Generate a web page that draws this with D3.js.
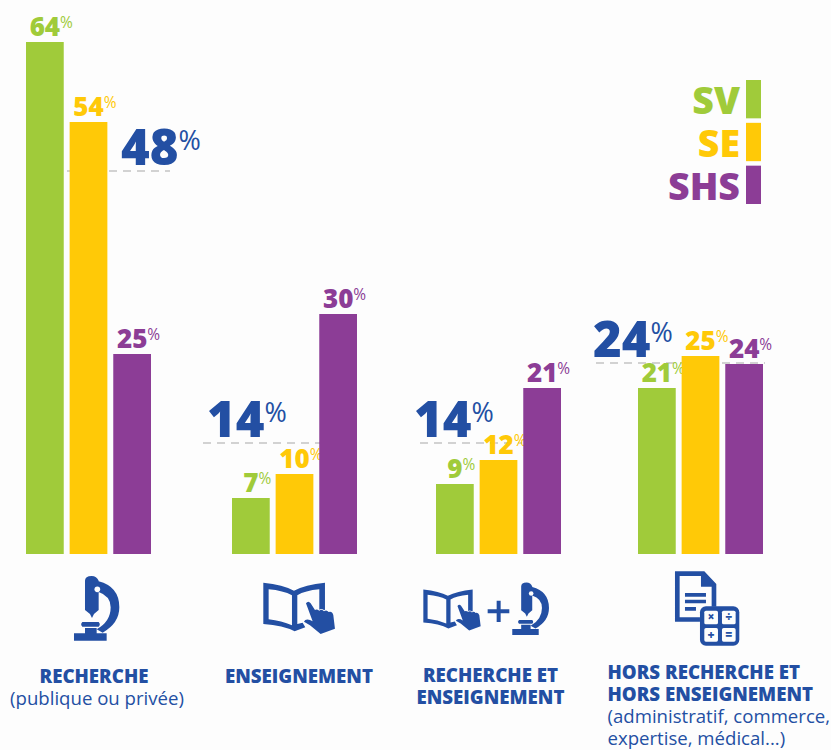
<!DOCTYPE html>
<html>
<head>
<meta charset="utf-8">
<script src="https://cdn.jsdelivr.net/npm/d3@7"></script>
<style>
html, body { margin: 0; padding: 0; background: #fdfdfd; }
svg { display: block; }
text { font-family: "Open Sans", sans-serif; }
</style>
</head>
<body>
<svg id="chart" width="831" height="750"></svg>
<script>
const categories = ['recherche', 'enseignement', 'mixte', 'hors'];
const seriesNames = ['SV', 'SE', 'SHS'];
// bar heights, printed rounded
const valuesSV = [64, 7, 8.75, 20.75];
const valuesSE = [54, 10, 11.75, 24.75];
const valuesSHS = [25, 30, 20.75, 23.75];
const averages = [48, 14, 14, 24];
const labelTitles = [
	['RECHERCHE'],
	['ENSEIGNEMENT'],
	['RECHERCHE ET', 'ENSEIGNEMENT'],
	['HORS RECHERCHE ET', 'HORS ENSEIGNEMENT']
];
const labelNotes = [
	['(publique ou privée)'],
	[],
	[],
	['(administratif, commerce,', 'expertise, médical...)']
];

const colors = d3.scaleOrdinal(seriesNames, ['#a0cb3a', '#ffc907', '#8c3d96']);
const blue = '#234fa3';
const series = {SV: valuesSV, SE: valuesSE, SHS: valuesSHS};

const svg = d3.select('#chart');
const y = d3.scaleLinear().domain([0, 64]).range([554, 42]);
const groupX = d3.scaleOrdinal(categories, [26, 232, 436, 638]);
const barX = d3.scaleBand().domain(seriesNames).range([0, 125]).paddingInner(0.135);

// dashed average lines, behind the bars
const avgLayout = [
	{x1: 67, x2: 170, textX: 121},
	{x1: 203, x2: 320, textX: 207},
	{x1: 420, x2: 522, textX: 414},
	{x1: 596, x2: 765, textX: 593}
];
svg.append('g').selectAll('line').data(averages).join('line')
	.attr('x1', (d, i) => avgLayout[i].x1)
	.attr('x2', (d, i) => avgLayout[i].x2)
	.attr('y1', d => y(d) + 1)
	.attr('y2', d => y(d) + 1)
	.attr('stroke', '#c4c4c4')
	.attr('stroke-width', 1.4)
	.attr('stroke-dasharray', '8 6');

// bars and their value labels
seriesNames.forEach(name => {
	const g = svg.append('g');
	const rows = categories.map((c, i) => ({c, v: series[name][i]}));
	g.selectAll('rect').data(rows).join('rect')
		.attr('x', d => groupX(d.c) + barX(name))
		.attr('y', d => y(d.v))
		.attr('width', barX.bandwidth())
		.attr('height', d => y(0) - y(d.v))
		.attr('fill', colors(name));
	g.selectAll('text.num').data(rows).join('text')
		.attr('class', 'num')
		.attr('x', d => groupX(d.c) + barX(name) + barX.bandwidth() / 2)
		.attr('y', d => y(d.v) - 6)
		.attr('text-anchor', 'middle')
		.attr('font-size', 26)
		.attr('font-weight', 800)
		.attr('fill', colors(name))
		.text(d => Math.round(d.v))
		.each(function(d) {
			d.numW = this.getComputedTextLength();
		});
	g.selectAll('text.pct').data(rows).join('text')
		.attr('class', 'pct')
		.attr('x', d => groupX(d.c) + barX(name) + barX.bandwidth() / 2 + d.numW / 2)
		.attr('y', d => y(d.v) - 14)
		.attr('font-size', 15.5)
		.attr('font-weight', 400)
		.attr('fill', colors(name))
		.text('%');
});

// big average figures
svg.append('g').selectAll('text').data(averages).join('text')
	.attr('x', (d, i) => avgLayout[i].textX)
	.attr('y', d => y(d) - 5)
	.attr('font-size', 49)
	.attr('font-weight', 800)
	.attr('fill', blue)
	.each(function(d) {
		const t = d3.select(this);
		t.append('tspan').text(d);
		t.append('tspan').text('%')
			.attr('font-size', 27)
			.attr('font-weight', 400)
			.attr('dy', -15);
	});

// legend
const legendY = d3.scaleBand().domain(seriesNames).range([80, 204]).paddingInner(0.105);
const legend = svg.append('g').selectAll('g').data(seriesNames).join('g');
legend.append('rect')
	.attr('x', 746)
	.attr('y', d => legendY(d))
	.attr('width', 15)
	.attr('height', legendY.bandwidth())
	.attr('fill', d => colors(d));
legend.append('text')
	.attr('x', 740)
	.attr('y', d => legendY(d) + 34)
	.attr('text-anchor', 'end')
	.attr('font-size', 37.5)
	.attr('font-weight', 800)
	.attr('fill', d => colors(d))
	.text(d => d);

// icons, drawn in the 3x zoom coordinates
const defs = svg.append('defs');
const scope = defs.append('g').attr('id', 'scope');
scope.append('path').attr('fill', blue).attr('d',
	'M222 220H255V204H290V220H320V242H222Z' +
	'M247 186H296Q303 193 296 200H247Q240 193 247 186Z' +
	'M255 62Q255 48 275 48Q290 48 296 62L296 150L282 162L276 174L270 162L255 150Z' +
	'M296 64Q358 80 358 142Q358 190 308 218L290 208Q332 185 332 142Q332 108 296 96Z');
scope.append('circle').attr('cx', 292).attr('cy', 88).attr('r', 8.5).attr('fill', '#fdfdfd');

const book = defs.append('g').attr('id', 'book');
book.append('path').attr('fill', blue).attr('fill-rule', 'evenodd').attr('d',
	'M790 68Q850 74 882 92Q915 74 975 68V165H958V88Q915 92 892 106V192L908 188L916 202L884 214Q850 196 790 192Z' +
	'M806 88V178Q845 182 876 196V106Q850 92 806 88Z');
book.append('path').attr('fill', blue)
	.attr('stroke', '#fdfdfd').attr('stroke-width', 5).attr('paint-order', 'stroke')
	.attr('d', 'M918 130Q925 120 932 130L945 150Q950 146 958 152Q966 146 972 154Q980 148 986 156Q996 152 1000 165L1005 206L962 222L930 196L912 185Q916 176 930 180L938 184Z');

svg.append('use').attr('href', '#scope')
	.attr('transform', 'translate(0,560) scale(0.3333)');
svg.append('use').attr('href', '#book')
	.attr('transform', 'translate(0,560) scale(0.3333)');
svg.append('use').attr('href', '#book')
	.attr('transform', 'translate(415,560) scale(0.3333) translate(-607,34) scale(0.8)');
svg.append('use').attr('href', '#scope')
	.attr('transform', 'translate(415,560) scale(0.3333) translate(112,29) scale(0.81)');
svg.append('path').attr('fill', blue)
	.attr('transform', 'translate(415,560) scale(0.3333)')
	.attr('d', 'M245 122H257V148H283V160H257V186H245V160H218V148H245Z');

// document and calculator
const doc = svg.append('g').attr('transform', 'translate(415,560) scale(0.3333)');
doc.append('path').attr('fill', blue).attr('d',
	'M780 34H868L904 72V140H890V80H858V48H794V172H855V185H780Z');
doc.append('path').attr('fill', blue).attr('d',
	'M810 99H873V110H810ZM810 119H873V130H810ZM810 141H843V152H810Z');
doc.append('rect').attr('x', 855).attr('y', 139).attr('width', 118).attr('height', 118)
	.attr('rx', 18).attr('fill', blue);
[[868, 152], [921, 152], [868, 204], [921, 204]].forEach(p => {
	doc.append('rect').attr('x', p[0]).attr('y', p[1]).attr('width', 41).attr('height', 41)
		.attr('rx', 5).attr('fill', '#fdfdfd');
});
doc.selectAll('text.op').data(['×', '÷', '+', '=']).join('text')
	.attr('class', 'op')
	.attr('x', (d, i) => (i % 2 ? 941.5 : 888.5))
	.attr('y', (d, i) => (i < 2 ? 184 : 236))
	.attr('text-anchor', 'middle')
	.attr('font-size', 36)
	.attr('font-weight', 800)
	.attr('fill', blue)
	.text(d => d);

// category labels
const labelCx = [94, 299, 490.5, null];
const labelTop = [682.5, 682.5, 681.5, 679];
labelTitles.forEach((lines, i) => {
	const anchor = labelCx[i] === null ? 'start' : 'middle';
	const x = labelCx[i] === null ? 607.5 : labelCx[i];
	let yy = labelTop[i];
	lines.forEach(l => {
		svg.append('text').attr('x', x).attr('y', yy)
			.attr('text-anchor', anchor)
			.attr('font-size', 18.7).attr('font-weight', 800).attr('fill', blue)
			.text(l);
		yy += 22;
	});
	labelNotes[i].forEach(l => {
		svg.append('text').attr('x', i === 0 ? 97 : x).attr('y', yy)
			.attr('text-anchor', anchor)
			.attr('font-size', 18.6).attr('font-weight', 400).attr('fill', blue)
			.text(l);
		yy += 22;
	});
});
</script>
</body>
</html>
